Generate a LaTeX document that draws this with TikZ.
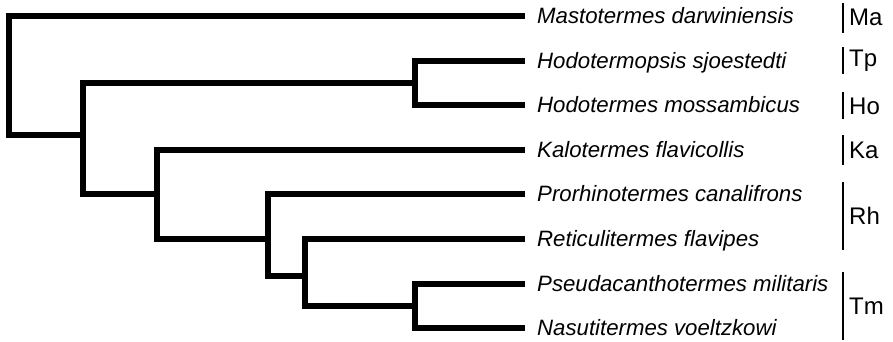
\documentclass[tikz,border=0pt]{standalone}
\usepackage{fontspec}
\setmainfont{Liberation Sans}
\begin{document}
\begin{tikzpicture}[x=1pt,y=-1pt,
  branch/.style={line width=5.5pt,line join=miter,line cap=butt},
  leaf/.style={inner sep=0pt,anchor=base west,font=\fontsize{22.2}{22.2}\selectfont\itshape},
  bar/.style={line width=2pt},
  grp/.style={inner sep=0pt,anchor=west,font=\fontsize{24}{24}\selectfont}]
\useasboundingbox (0,0) rectangle (893,341);
% leaf tips
\coordinate (e1) at (525,16);
\coordinate (e2) at (525,61);
\coordinate (e3) at (525,105);
\coordinate (e4) at (525,150);
\coordinate (e5) at (525,194);
\coordinate (e6) at (525,239);
\coordinate (e7) at (525,284);
\coordinate (e8) at (525,328);
% internal nodes
\coordinate (root) at (9,75);
\coordinate (n2) at (83,135);
\coordinate (nH) at (415,83);
\coordinate (n3) at (157,194);
\coordinate (n4) at (268,239);
\coordinate (n5) at (305,276);
\coordinate (n6) at (415,306);
% leaf labels
\node[leaf] (t1) at ([xshift=12pt,yshift=-7.8pt]e1) {Mastotermes darwiniensis};
\node[leaf] (t2) at ([xshift=12pt,yshift=-7.8pt]e2) {Hodotermopsis sjoestedti};
\node[leaf] (t3) at ([xshift=12pt,yshift=-7.8pt]e3) {Hodotermes mossambicus};
\node[leaf] (t4) at ([xshift=12pt,yshift=-7.8pt]e4) {Kalotermes flavicollis};
\node[leaf] (t5) at ([xshift=12pt,yshift=-7.8pt]e5) {Prorhinotermes canalifrons};
\node[leaf] (t6) at ([xshift=12pt,yshift=-7.8pt]e6) {Reticulitermes flavipes};
\node[leaf] (t7) at ([xshift=12pt,yshift=-7.8pt]e7) {Pseudacanthotermes militaris};
\node[leaf] (t8) at ([xshift=12pt,yshift=-7.8pt]e8) {Nasutitermes voeltzkowi};
% tree
\draw[branch] (e1) -| (root) |- (n2);
\draw[branch] (nH) -| (n2) |- (n3);
\draw[branch] (e2) -| (nH) |- (e3);
\draw[branch] (e4) -| (n3) |- (n4);
\draw[branch] (e5) -| (n4) |- (n5);
\draw[branch] (e6) -| (n5) |- (n6);
\draw[branch] (e7) -| (n6) |- (e8);
% group bars and labels
\draw[bar] (843,3) -- (843,33);
\draw[bar] (843,47) -- (843,74);
\draw[bar] (843,92) -- (843,119);
\draw[bar] (843,135) -- (843,165);
\draw[bar] (843,182) -- (843,250);
\draw[bar] (843,272) -- (843,340);
\node[grp] (gMa) at (849,17) {Ma};
\node[grp] (gTp) at (849,61) {Tp};
\node[grp] (gHo) at (849,106) {Ho};
\node[grp] (gKa) at (849,150) {Ka};
\node[grp] (gRh) at (849,216) {Rh};
\node[grp] (gTm) at (849,306) {Tm};
\end{tikzpicture}
\end{document}
